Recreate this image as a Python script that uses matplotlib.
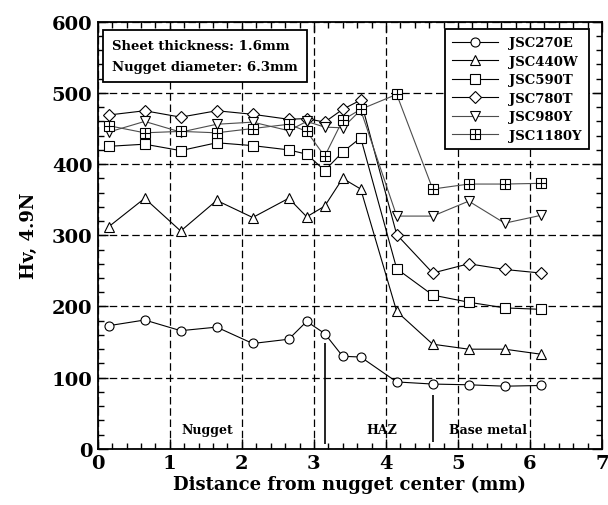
import matplotlib
matplotlib.use("Agg")
import matplotlib.pyplot as plt
from matplotlib.ticker import MultipleLocator
from matplotlib.legend_handler import HandlerTuple

# distance from nugget center (mm)
x = [0.15, 0.65, 1.15, 1.65, 2.15, 2.65, 2.9, 3.15, 3.4, 3.65, 4.15, 4.65, 5.15, 5.65, 6.15]

jsc270e = [173, 181, 166, 171, 148, 154, 179, 162, 130, 129, 94, 91, 90, 88, 89]
jsc440w = [312, 352, 306, 349, 325, 352, 326, 341, 380, 365, 193, 147, 140, 140, 133]
jsc590t = [425, 428, 419, 430, 426, 420, 414, 391, 417, 437, 253, 216, 206, 198, 196]
jsc780t = [469, 475, 466, 475, 470, 463, 464, 459, 477, 490, 301, 247, 260, 252, 247]
jsc980y = [445, 460, 445, 456, 459, 447, 460, 452, 451, 476, 327, 327, 348, 317, 328]
jsc1180y = [454, 444, 446, 444, 450, 456, 446, 411, 462, 477, 498, 365, 372, 372, 373]

names = ["JSC270E", "JSC440W", "JSC590T", "JSC780T", "JSC980Y", "JSC1180Y"]
series = [jsc270e, jsc440w, jsc590t, jsc780t, jsc980y, jsc1180y]
markers = ["o", "^", "s", "D", "v", "s+"]

zone_labels = ["Nugget", "HAZ", "Base metal"]
zone_x = [1.52, 3.94, 5.42]
boundaries = [3.15, 4.65]

plt.rcParams["font.family"] = "DejaVu Serif"
plt.rcParams["font.weight"] = "bold"

fig = plt.figure(figsize=(6.08, 5.06), dpi=100)
ax = fig.add_axes([0.161, 0.111, 0.829, 0.844])

ax.set_xlim(0, 7)
ax.set_ylim(0, 600)
ax.grid(True, color="black", linestyle=(0, (6, 3)), linewidth=0.9)
ax.set_axisbelow(True)

handles = []
for name, y, m in zip(names, series, markers):
    col = "0.3" if name in ("JSC980Y", "JSC1180Y") else "black"
    if m == "s+":
        h1, = ax.plot(x, y, color=col, lw=0.8, marker="s", ms=6.5, mfc="white",
                      mec="black", mew=0.8, zorder=3)
        h2, = ax.plot(x, y, ls="none", marker="+", ms=6.5, mec="black", mew=0.8, zorder=4)
        handles.append((h1, h2))
    else:
        ms = 6 if m == "D" else 6.5
        h, = ax.plot(x, y, color=col, lw=0.8, marker=m, ms=ms, mfc="white",
                     mec="black", mew=0.8, zorder=3)
        handles.append(h)

leg = ax.legend(handles, names, loc="upper right", bbox_to_anchor=(0.974, 0.983),
                borderaxespad=0, fancybox=False, edgecolor="black", framealpha=1,
                handlelength=3.5, labelspacing=0.42, borderpad=0.55,
                handler_map={tuple: HandlerTuple(ndivide=1)},
                prop={"weight": "bold", "size": 9.5})
leg.get_frame().set_linewidth(1.3)
leg.set_zorder(5)

# zone boundaries and labels
ax.vlines(boundaries[0], 7, 148, color="black", lw=1.2)
ax.vlines(boundaries[1], 10, 76, color="black", lw=1.2)
for t, xx in zip(zone_labels, zone_x):
    ax.text(xx, 27, t, ha="center", va="center", fontsize=9, fontweight="bold")

ax.text(0.028, 0.92, "Sheet thickness: 1.6mm\nNugget diameter: 6.3mm",
        transform=ax.transAxes, ha="left", va="center", fontsize=9.5,
        fontweight="bold", linespacing=1.75, zorder=5,
        bbox=dict(boxstyle="square,pad=0.7", fc="white", ec="black", lw=1.3))

ax.xaxis.set_major_locator(MultipleLocator(1))
ax.xaxis.set_minor_locator(MultipleLocator(0.2))
ax.yaxis.set_major_locator(MultipleLocator(100))
ax.yaxis.set_minor_locator(MultipleLocator(20))
ax.tick_params(which="both", direction="in", top=True, right=True, width=1)
ax.tick_params(which="major", length=7, labelsize=14, pad=4)
ax.tick_params(which="minor", length=4)
for s in ax.spines.values():
    s.set_linewidth(1.3)

ax.set_xlabel("Distance from nugget center (mm)", fontsize=13, fontweight="bold", labelpad=2)
ax.set_ylabel("Hv, 4.9N", fontsize=13, fontweight="bold", labelpad=10)

fig.savefig("out.png", dpi=100)
